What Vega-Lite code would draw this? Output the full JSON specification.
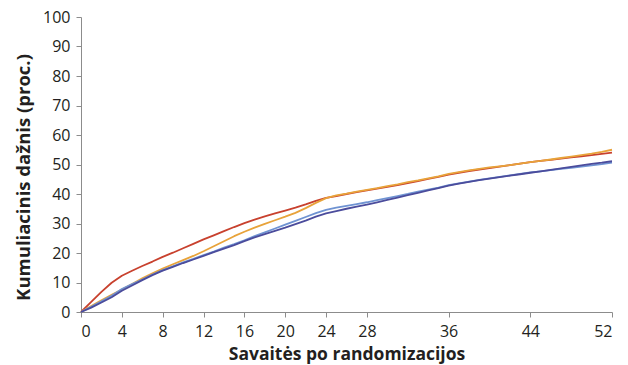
{
  "$schema": "https://vega.github.io/schema/vega-lite/v6.json",
  "width": 531,
  "height": 295,
  "autosize": {"type": "none"},
  "padding": {"left": 81, "top": 17, "right": 16, "bottom": 53},
  "background": "white",
  "config": {
    "view": {"stroke": null},
    "font": "Open Sans",
    "axis": {
      "grid": false,
      "domainColor": "#8c8c8c",
      "tickColor": "#8c8c8c",
      "labelFont": "Open Sans",
      "labelFontSize": 16,
      "labelColor": "#231f20",
      "titleFont": "Open Sans",
      "titleFontWeight": "bold",
      "titleColor": "#231f20",
      "tickSize": 5
    }
  },
  "data": {
    "values": [
      {"s":"red","w":0,"v":0},{"s":"red","w":1,"v":3.4},{"s":"red","w":2,"v":6.8},{"s":"red","w":3,"v":9.9},{"s":"red","w":4,"v":12.3},{"s":"red","w":5,"v":14},{"s":"red","w":6,"v":15.6},{"s":"red","w":7,"v":17.1},{"s":"red","w":8,"v":18.7},{"s":"red","w":9,"v":20.1},{"s":"red","w":10,"v":21.6},{"s":"red","w":11,"v":23.1},{"s":"red","w":12,"v":24.6},{"s":"red","w":13,"v":26},{"s":"red","w":14,"v":27.4},{"s":"red","w":15,"v":28.8},{"s":"red","w":16,"v":30.1},{"s":"red","w":17,"v":31.3},{"s":"red","w":18,"v":32.4},{"s":"red","w":19,"v":33.4},{"s":"red","w":20,"v":34.4},{"s":"red","w":21,"v":35.4},{"s":"red","w":22,"v":36.5},{"s":"red","w":23,"v":37.7},{"s":"red","w":24,"v":38.7},{"s":"red","w":25,"v":39.3},{"s":"red","w":26,"v":40},{"s":"red","w":27,"v":40.6},{"s":"red","w":28,"v":41.2},{"s":"red","w":29,"v":41.8},{"s":"red","w":30,"v":42.4},{"s":"red","w":31,"v":43},{"s":"red","w":32,"v":43.7},{"s":"red","w":33,"v":44.4},{"s":"red","w":34,"v":45.1},{"s":"red","w":35,"v":45.8},{"s":"red","w":36,"v":46.6},{"s":"red","w":37,"v":47.2},{"s":"red","w":38,"v":47.8},{"s":"red","w":39,"v":48.3},{"s":"red","w":40,"v":48.8},{"s":"red","w":41,"v":49.3},{"s":"red","w":42,"v":49.8},{"s":"red","w":43,"v":50.3},{"s":"red","w":44,"v":50.8},{"s":"red","w":45,"v":51.2},{"s":"red","w":46,"v":51.6},{"s":"red","w":47,"v":52},{"s":"red","w":48,"v":52.4},{"s":"red","w":49,"v":52.8},{"s":"red","w":50,"v":53.2},{"s":"red","w":51,"v":53.6},{"s":"red","w":52,"v":54},
      {"s":"orange","w":0,"v":0},{"s":"orange","w":1,"v":2},{"s":"orange","w":2,"v":4},{"s":"orange","w":3,"v":5.8},{"s":"orange","w":4,"v":7.6},{"s":"orange","w":5,"v":9.5},{"s":"orange","w":6,"v":11.4},{"s":"orange","w":7,"v":13.1},{"s":"orange","w":8,"v":14.7},{"s":"orange","w":9,"v":16.2},{"s":"orange","w":10,"v":17.6},{"s":"orange","w":11,"v":19},{"s":"orange","w":12,"v":20.6},{"s":"orange","w":13,"v":22.3},{"s":"orange","w":14,"v":24},{"s":"orange","w":15,"v":25.7},{"s":"orange","w":16,"v":27.2},{"s":"orange","w":17,"v":28.6},{"s":"orange","w":18,"v":29.9},{"s":"orange","w":19,"v":31.1},{"s":"orange","w":20,"v":32.3},{"s":"orange","w":21,"v":33.6},{"s":"orange","w":22,"v":35.2},{"s":"orange","w":23,"v":37},{"s":"orange","w":24,"v":38.6},{"s":"orange","w":25,"v":39.5},{"s":"orange","w":26,"v":40.1},{"s":"orange","w":27,"v":40.8},{"s":"orange","w":28,"v":41.4},{"s":"orange","w":29,"v":42},{"s":"orange","w":30,"v":42.7},{"s":"orange","w":31,"v":43.3},{"s":"orange","w":32,"v":44},{"s":"orange","w":33,"v":44.6},{"s":"orange","w":34,"v":45.3},{"s":"orange","w":35,"v":46},{"s":"orange","w":36,"v":46.8},{"s":"orange","w":37,"v":47.4},{"s":"orange","w":38,"v":48},{"s":"orange","w":39,"v":48.5},{"s":"orange","w":40,"v":49},{"s":"orange","w":41,"v":49.4},{"s":"orange","w":42,"v":49.8},{"s":"orange","w":43,"v":50.3},{"s":"orange","w":44,"v":50.8},{"s":"orange","w":45,"v":51.2},{"s":"orange","w":46,"v":51.7},{"s":"orange","w":47,"v":52.2},{"s":"orange","w":48,"v":52.7},{"s":"orange","w":49,"v":53.2},{"s":"orange","w":50,"v":53.7},{"s":"orange","w":51,"v":54.3},{"s":"orange","w":52,"v":55},
      {"s":"lightblue","w":0,"v":0},{"s":"lightblue","w":1,"v":1.8},{"s":"lightblue","w":2,"v":3.6},{"s":"lightblue","w":3,"v":5.5},{"s":"lightblue","w":4,"v":7.8},{"s":"lightblue","w":5,"v":9.5},{"s":"lightblue","w":6,"v":11},{"s":"lightblue","w":7,"v":12.7},{"s":"lightblue","w":8,"v":14.2},{"s":"lightblue","w":9,"v":15.5},{"s":"lightblue","w":10,"v":16.8},{"s":"lightblue","w":11,"v":18},{"s":"lightblue","w":12,"v":19.3},{"s":"lightblue","w":13,"v":20.5},{"s":"lightblue","w":14,"v":21.8},{"s":"lightblue","w":15,"v":23},{"s":"lightblue","w":16,"v":24.3},{"s":"lightblue","w":17,"v":25.7},{"s":"lightblue","w":18,"v":27},{"s":"lightblue","w":19,"v":28.3},{"s":"lightblue","w":20,"v":29.6},{"s":"lightblue","w":21,"v":30.9},{"s":"lightblue","w":22,"v":32.2},{"s":"lightblue","w":23,"v":33.5},{"s":"lightblue","w":24,"v":34.6},{"s":"lightblue","w":25,"v":35.4},{"s":"lightblue","w":26,"v":36},{"s":"lightblue","w":27,"v":36.6},{"s":"lightblue","w":28,"v":37.2},{"s":"lightblue","w":29,"v":37.9},{"s":"lightblue","w":30,"v":38.6},{"s":"lightblue","w":31,"v":39.3},{"s":"lightblue","w":32,"v":40},{"s":"lightblue","w":33,"v":40.8},{"s":"lightblue","w":34,"v":41.5},{"s":"lightblue","w":35,"v":42.2},{"s":"lightblue","w":36,"v":43},{"s":"lightblue","w":37,"v":43.6},{"s":"lightblue","w":38,"v":44.2},{"s":"lightblue","w":39,"v":44.8},{"s":"lightblue","w":40,"v":45.3},{"s":"lightblue","w":41,"v":45.8},{"s":"lightblue","w":42,"v":46.3},{"s":"lightblue","w":43,"v":46.8},{"s":"lightblue","w":44,"v":47.3},{"s":"lightblue","w":45,"v":47.7},{"s":"lightblue","w":46,"v":48.1},{"s":"lightblue","w":47,"v":48.5},{"s":"lightblue","w":48,"v":48.9},{"s":"lightblue","w":49,"v":49.3},{"s":"lightblue","w":50,"v":49.7},{"s":"lightblue","w":51,"v":50.1},{"s":"lightblue","w":52,"v":50.6},
      {"s":"darkblue","w":0,"v":0},{"s":"darkblue","w":1,"v":1.5},{"s":"darkblue","w":2,"v":3.2},{"s":"darkblue","w":3,"v":5},{"s":"darkblue","w":4,"v":7.2},{"s":"darkblue","w":5,"v":9},{"s":"darkblue","w":6,"v":10.8},{"s":"darkblue","w":7,"v":12.5},{"s":"darkblue","w":8,"v":14},{"s":"darkblue","w":9,"v":15.3},{"s":"darkblue","w":10,"v":16.6},{"s":"darkblue","w":11,"v":17.8},{"s":"darkblue","w":12,"v":19},{"s":"darkblue","w":13,"v":20.3},{"s":"darkblue","w":14,"v":21.5},{"s":"darkblue","w":15,"v":22.7},{"s":"darkblue","w":16,"v":24},{"s":"darkblue","w":17,"v":25.3},{"s":"darkblue","w":18,"v":26.4},{"s":"darkblue","w":19,"v":27.5},{"s":"darkblue","w":20,"v":28.6},{"s":"darkblue","w":21,"v":29.8},{"s":"darkblue","w":22,"v":31},{"s":"darkblue","w":23,"v":32.3},{"s":"darkblue","w":24,"v":33.4},{"s":"darkblue","w":25,"v":34.2},{"s":"darkblue","w":26,"v":35},{"s":"darkblue","w":27,"v":35.7},{"s":"darkblue","w":28,"v":36.4},{"s":"darkblue","w":29,"v":37.2},{"s":"darkblue","w":30,"v":38},{"s":"darkblue","w":31,"v":38.8},{"s":"darkblue","w":32,"v":39.6},{"s":"darkblue","w":33,"v":40.4},{"s":"darkblue","w":34,"v":41.2},{"s":"darkblue","w":35,"v":42},{"s":"darkblue","w":36,"v":42.8},{"s":"darkblue","w":37,"v":43.5},{"s":"darkblue","w":38,"v":44.1},{"s":"darkblue","w":39,"v":44.7},{"s":"darkblue","w":40,"v":45.2},{"s":"darkblue","w":41,"v":45.7},{"s":"darkblue","w":42,"v":46.2},{"s":"darkblue","w":43,"v":46.7},{"s":"darkblue","w":44,"v":47.2},{"s":"darkblue","w":45,"v":47.7},{"s":"darkblue","w":46,"v":48.2},{"s":"darkblue","w":47,"v":48.7},{"s":"darkblue","w":48,"v":49.2},{"s":"darkblue","w":49,"v":49.7},{"s":"darkblue","w":50,"v":50.2},{"s":"darkblue","w":51,"v":50.6},{"s":"darkblue","w":52,"v":51.1}
    ]
  },
  "mark": {"type": "line", "strokeWidth": 1.8, "strokeJoin": "round"},
  "encoding": {
    "x": {
      "field": "w",
      "type": "quantitative",
      "scale": {"domain": [0, 52], "nice": false, "zero": true},
      "axis": {"title": "Savaitės po randomizacijos", "titleFontSize": 17.5, "labelPadding": 6, "values": [0, 4, 8, 12, 16, 20, 24, 28, 36, 44, 52], "titlePadding": 6}
    },
    "y": {
      "field": "v",
      "type": "quantitative",
      "scale": {"domain": [0, 100], "nice": false},
      "axis": {"title": "Kumuliacinis dažnis (proc.)", "titleFontSize": 18.5, "labelPadding": 6, "titleY": 160, "values": [0, 10, 20, 30, 40, 50, 60, 70, 80, 90, 100], "titlePadding": 9}
    },
    "color": {
      "field": "s",
      "type": "nominal",
      "scale": {"domain": ["darkblue", "lightblue", "orange", "red"], "range": ["#4b4c9c", "#6f93d2", "#e8a33a", "#c8412e"]},
      "legend": null
    },
    "order": {"field": "w"}
  }
}
